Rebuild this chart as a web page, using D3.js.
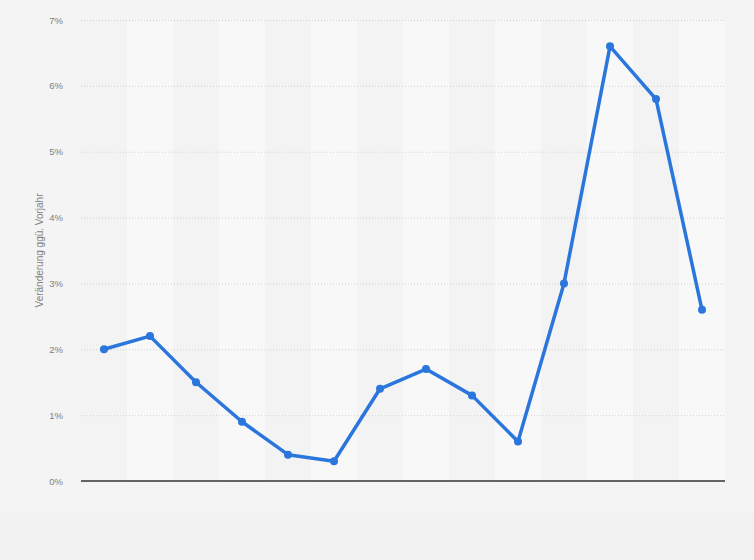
<!DOCTYPE html>
<html>
<head>
<meta charset="utf-8">
<script src="https://cdn.jsdelivr.net/npm/d3@7"></script>
<style>
  body { margin: 0; background: #f4f4f4; }
  svg { display: block; font-family: "Liberation Sans", Arial, sans-serif; }
  .grid line { stroke: #d2d2d2; stroke-dasharray: 1,2; }
  .axis text { fill: #808080; font-size: 9.5px; }
</style>
</head>
<body>
<svg class="chart"></svg>
<script>
// data (x labels are not shown in the picture)
var categories = ['1','2','3','4','5','6','7','8','9','10','11','12','13','14'];
var values = [2.0, 2.2, 1.5, 0.9, 0.4, 0.3, 1.4, 1.7, 1.3, 0.6, 3.0, 6.6, 5.8, 2.6];
var yTicks = [0, 1, 2, 3, 4, 5, 6, 7];
var yLabel = 'Veränderung ggü. Vorjahr';

var margin = {top: 20, right: 29, bottom: 79, left: 81},
	width = 754 - margin.left - margin.right,
	height = 560 - margin.top - margin.bottom;

var chart = d3.select('.chart')
	.attr('width', 754)
	.attr('height', 560);

// slightly different lower strip
chart.append('rect')
	.attr('x', 0).attr('y', 512).attr('width', 754).attr('height', 48)
	.attr('fill', '#f2f2f2');

var g = chart.append('g')
	.attr('transform', 'translate(' + margin.left + ',' + margin.top + ')');

var x = d3.scaleBand().domain(categories).range([0, width]),
	y = d3.scaleLinear().domain([0, 7]).range([height, 0]);

// alternating column bands
g.selectAll('.band')
	.data(categories)
  .enter().append('rect')
	.attr('class', 'band')
	.attr('x', function(d) { return x(d); })
	.attr('y', 0)
	.attr('width', x.bandwidth())
	.attr('height', height)
	.attr('fill', function(d, i) { return i % 2 ? '#f8f8f8' : '#f3f3f3'; });

// gridlines
g.append('g')
	.attr('class', 'grid')
	.call(d3.axisLeft(y).tickValues(yTicks.slice(1)).tickSize(-width).tickFormat(''))
	.call(function(s) { s.select('.domain').remove(); });

// y axis labels
g.append('g')
	.attr('class', 'axis')
	.attr('transform', 'translate(-15,0)')
	.call(d3.axisLeft(y).tickValues(yTicks).tickSize(0).tickFormat(function(d) { return d + '%'; }))
	.call(function(s) { s.select('.domain').remove(); });

// baseline
g.append('line')
	.attr('x1', 0).attr('x2', width)
	.attr('y1', y(0)).attr('y2', y(0))
	.attr('stroke', '#333').attr('stroke-width', 1.5);

// y axis title
chart.append('text')
	.attr('transform', 'translate(43,' + (margin.top + height / 2) + ') rotate(-90)')
	.attr('text-anchor', 'middle')
	.attr('fill', '#808080')
	.style('font-size', '10px')
	.text(yLabel);

var cx = function(d, i) { return x(categories[i]) + x.bandwidth() / 2; };

var line = d3.line()
	.x(cx)
	.y(function(d) { return y(d); });

g.append('path')
	.datum(values)
	.attr('d', line)
	.attr('fill', 'none')
	.attr('stroke', '#2a76dd')
	.attr('stroke-width', 3.5)
	.attr('stroke-linejoin', 'round');

g.selectAll('.dot')
	.data(values)
  .enter().append('circle')
	.attr('class', 'dot')
	.attr('cx', cx)
	.attr('cy', function(d) { return y(d); })
	.attr('r', 4)
	.attr('fill', '#2a76dd');
</script>
</body>
</html>
